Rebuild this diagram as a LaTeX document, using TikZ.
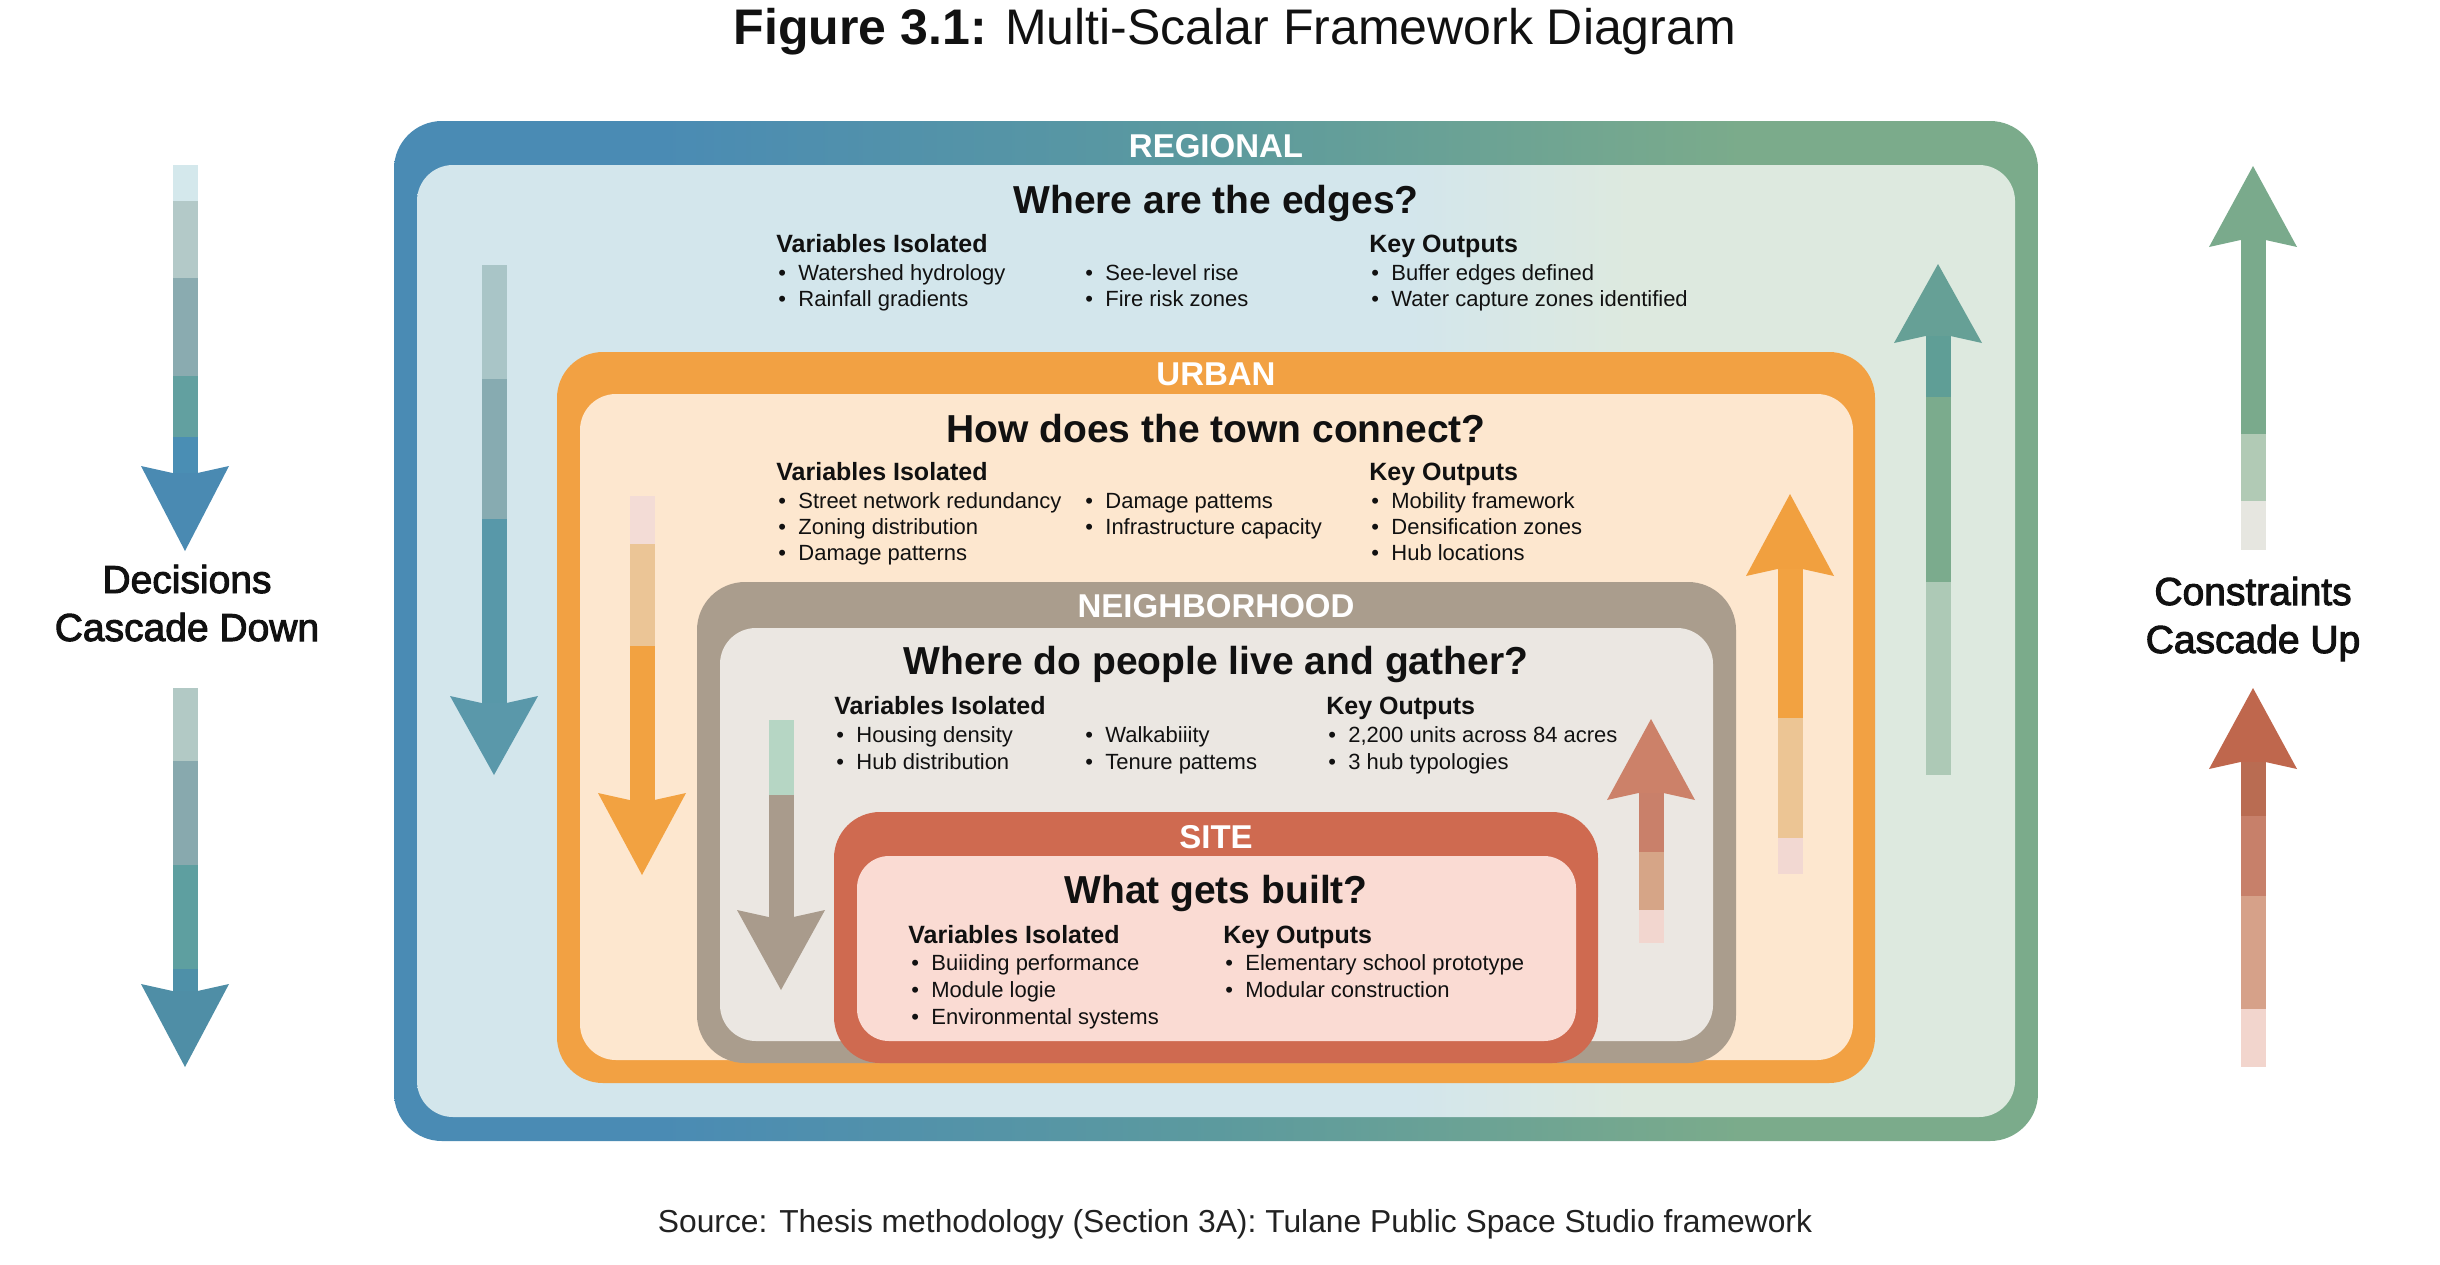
\documentclass[tikz,border=0pt]{standalone}
\usepackage{fontspec}
\setmainfont{Liberation Sans}
\newfontfamily\medfont[FakeBold=2.5]{Liberation Sans}
\definecolor{ink}{HTML}{111111}
\definecolor{srcgray}{HTML}{222222}
\definecolor{regA}{HTML}{4A8BB4}
\definecolor{regB}{HTML}{5C9A9E}
\definecolor{regC}{HTML}{7BAB8B}
\definecolor{regfA}{HTML}{D3E6EC}
\definecolor{regfC}{HTML}{DDE9DF}
\definecolor{urbBand}{HTML}{F2A143}
\definecolor{urbFill}{HTML}{FDE7CF}
\definecolor{nbhBand}{HTML}{AA9D8D}
\definecolor{nbhFill}{HTML}{EBE7E2}
\definecolor{siteBand}{HTML}{CF6A50}
\definecolor{siteFill}{HTML}{FADBD3}
\pgfdeclarehorizontalshading{regband}{100bp}{color(0bp)=(regA); color(33bp)=(regA); color(50bp)=(regB); color(66bp)=(regC); color(100bp)=(regC)}
\pgfdeclarehorizontalshading{regfill}{100bp}{color(0bp)=(regfA); color(56bp)=(regfA); color(63bp)=(regfC); color(100bp)=(regfC)}
\newcommand\bl{\makebox[10pt][l]{•}}
% shaft segment: x, y1, y2, hex colour
\newcommand\sg[4]{\definecolor{segc}{HTML}{#4}\fill[segc] ({#1-12.5},#2) rectangle ({#1+12.5},#3);}
% down head: x, base y, tip y, hex colour
\newcommand\hdn[4]{\definecolor{segc}{HTML}{#4}\fill[segc] ({#1-44},{#2-4}) -- ({#1-12.5},{#2+3}) -- ({#1+12.5},{#2+3}) -- ({#1+44},{#2-4}) -- (#1,#3) -- cycle;}
% up head: x, base y, tip y, hex colour
\newcommand\hup[4]{\definecolor{segc}{HTML}{#4}\fill[segc] ({#1-44},{#2+4}) -- ({#1-12.5},{#2-3}) -- ({#1+12.5},{#2-3}) -- ({#1+44},{#2+4}) -- (#1,#3) -- cycle;}
\tikzset{
  ttl/.style={anchor=base, inner sep=0, text=ink, font=\fontsize{25pt}{30pt}\selectfont},
  bandlbl/.style={anchor=base, inner sep=0, text=white, font=\bfseries\fontsize{16.5pt}{20pt}\selectfont},
  headq/.style={anchor=base, inner sep=0, text=ink, font=\bfseries\fontsize{19.5pt}{24pt}\selectfont},
  subh/.style={anchor=base west, inner sep=0, text=ink, font=\bfseries\fontsize{12.5pt}{15pt}\selectfont},
  item/.style={anchor=base west, inner sep=0, text=ink, font=\fontsize{11pt}{13pt}\selectfont},
  side/.style={anchor=base, inner sep=0, text=ink, font=\medfont\fontsize{19.5pt}{24pt}\selectfont},
  src/.style={anchor=base, inner sep=0, text=srcgray, font=\fontsize{15.9pt}{19pt}\selectfont},
}
\begin{document}
\begin{tikzpicture}[x=0.5pt,y=-0.5pt]
\useasboundingbox (0,0) rectangle (2440,1264);
\fill[white] (0,0) rectangle (2440,1264);

% ---------- title ----------
\node[ttl] (title) at (1235,44) {\textbf{Figure 3.1:} Multi-Scalar Framework Diagram};

% ---------- outer left arrows ----------
\sg{185}{165}{202}{D4E8EC}
\sg{185}{201}{279}{B3C9C8}
\sg{185}{278}{377}{8AABB0}
\sg{185}{376}{438}{62A0A0}
\sg{185}{437}{473}{4A8EB4}
\hdn{185}{470}{551}{4A8AB2}
\sg{185}{688}{762}{B2C9C5}
\sg{185}{761}{866}{88A9AE}
\sg{185}{865}{970}{5E9FA0}
\sg{185}{969}{992}{4E90A8}
\hdn{185}{988}{1067}{4F8EA6}
\node[side] (dec1) at (187,593) {Decisions};
\node[side] (dec2) at (187,641) {Cascade Down};

% ---------- outer right arrows ----------
\hup{2253}{243}{166}{7AAA8C}
\sg{2253}{240}{435}{7AAA8C}
\sg{2253}{434}{502}{B1CAB5}
\sg{2253}{501}{550}{E6E6E0}
\hup{2253}{765}{688}{BF674D}
\sg{2253}{762}{817}{B96C52}
\sg{2253}{816}{897}{C7806A}
\sg{2253}{896}{1010}{D6A189}
\sg{2253}{1009}{1067}{F2D5CD}
\node[side] (con1) at (2253,605) {Constraints};
\node[side] (con2) at (2253,653) {Cascade Up};

% ---------- REGIONAL ----------
\shade[shading=regband, rounded corners=24pt] (394,121) rectangle (2038,1141);
\shade[shading=regfill, rounded corners=18pt] (417,165) rectangle (2015,1117);
\sg{494}{265}{380}{A9C5C7}
\sg{494}{379}{520}{87ABB1}
\sg{494}{519}{703}{5898A9}
\hdn{494}{700}{775}{5A98AA}
\hup{1938}{339}{264}{66A096}
\sg{1938}{336}{398}{5F9E96}
\sg{1938}{397}{583}{7BAB8D}
\sg{1938}{582}{775}{ADC9B6}
\node[bandlbl] (regT) at (1216,157) {REGIONAL};
\node[headq] (regQ) at (1216,213) {Where are the edges?};
\node[subh] (regV) at (776,252) {Variables Isolated};
\node[item] (regV1) at (778,280) {\bl Watershed hydrology};
\node[item] (regV2) at (778,306) {\bl Rainfall gradients};
\node[item] (regV3) at (1085,280) {\bl See-level rise};
\node[item] (regV4) at (1085,306) {\bl Fire risk zones};
\node[subh] (regK) at (1369,252) {Key Outputs};
\node[item] (regK1) at (1371,280) {\bl Buffer edges defined};
\node[item] (regK2) at (1371,306) {\bl Water capture zones identified};

% ---------- URBAN ----------
\fill[urbBand, rounded corners=23pt] (557,352) rectangle (1875,1083);
\fill[urbFill, rounded corners=18pt] (580,394) rectangle (1853,1060);
\sg{642}{496}{545}{F3DCD6}
\sg{642}{544}{647}{EBC596}
\sg{642}{646}{800}{F2A241}
\hdn{642}{797}{875}{F2A241}
\hup{1790}{572}{494}{F1A03F}
\sg{1790}{569}{719}{F2A241}
\sg{1790}{718}{839}{ECC594}
\sg{1790}{838}{874}{F2D8D2}
\node[bandlbl] (urbT) at (1216,385) {URBAN};
\node[headq] (urbQ) at (1216,442) {How does the town connect?};
\node[subh] (urbV) at (776,480) {Variables Isolated};
\node[item] (urbV1) at (778,508) {\bl Street network redundancy};
\node[item] (urbV2) at (778,534) {\bl Zoning distribution};
\node[item] (urbV3) at (778,560) {\bl Damage patterns};
\node[item] (urbV4) at (1085,508) {\bl Damage pattems};
\node[item] (urbV5) at (1085,534) {\bl Infrastructure capacity};
\node[subh] (urbK) at (1369,480) {Key Outputs};
\node[item] (urbK1) at (1371,508) {\bl Mobility framework};
\node[item] (urbK2) at (1371,534) {\bl Densification zones};
\node[item] (urbK3) at (1371,560) {\bl Hub locations};

% ---------- NEIGHBORHOOD ----------
\fill[nbhBand, rounded corners=24pt] (697,582) rectangle (1736,1063);
\fill[nbhFill, rounded corners=18pt] (720,628) rectangle (1713,1041);
\sg{781}{720}{796}{B6D6C4}
\sg{781}{795}{917}{A99B8C}
\hdn{781}{914}{990}{A99B8C}
\hup{1651}{796}{719}{CC8169}
\sg{1651}{793}{853}{C9806A}
\sg{1651}{852}{911}{D6A587}
\sg{1651}{910}{943}{F2D6CF}
\node[bandlbl] (nbhT) at (1216,617) {NEIGHBORHOOD};
\node[headq] (nbhQ) at (1216,674) {Where do people live and gather?};
\node[subh] (nbhV) at (834,714) {Variables Isolated};
\node[item] (nbhV1) at (836,742) {\bl Housing density};
\node[item] (nbhV2) at (836,769) {\bl Hub distribution};
\node[item] (nbhV3) at (1085,742) {\bl Walkabiiity};
\node[item] (nbhV4) at (1085,769) {\bl Tenure pattems};
\node[subh] (nbhK) at (1326,714) {Key Outputs};
\node[item] (nbhK1) at (1328,742) {\bl 2,200 units across 84 acres};
\node[item] (nbhK2) at (1328,769) {\bl 3 hub typologies};

% ---------- SITE ----------
\fill[siteBand, rounded corners=23pt] (834,812) rectangle (1598,1063);
\fill[siteFill, rounded corners=16pt] (857,856) rectangle (1576,1041);
\node[bandlbl] (siteT) at (1216,848) {SITE};
\node[headq] (siteQ) at (1216,903) {What gets built?};
\node[subh] (siteV) at (908,943) {Variables Isolated};
\node[item] (siteV1) at (911,970) {\bl Buiiding performance};
\node[item] (siteV2) at (911,997) {\bl Module logie};
\node[item] (siteV3) at (911,1024) {\bl Environmental systems};
\node[subh] (siteK) at (1223,943) {Key Outputs};
\node[item] (siteK1) at (1225,970) {\bl Elementary school prototype};
\node[item] (siteK2) at (1225,997) {\bl Modular construction};

% ---------- source ----------
\node[src] (source) at (1235,1232) {Source: Thesis methodology (Section 3A): Tulane Public Space Studio framework};
\end{tikzpicture}
\end{document}
